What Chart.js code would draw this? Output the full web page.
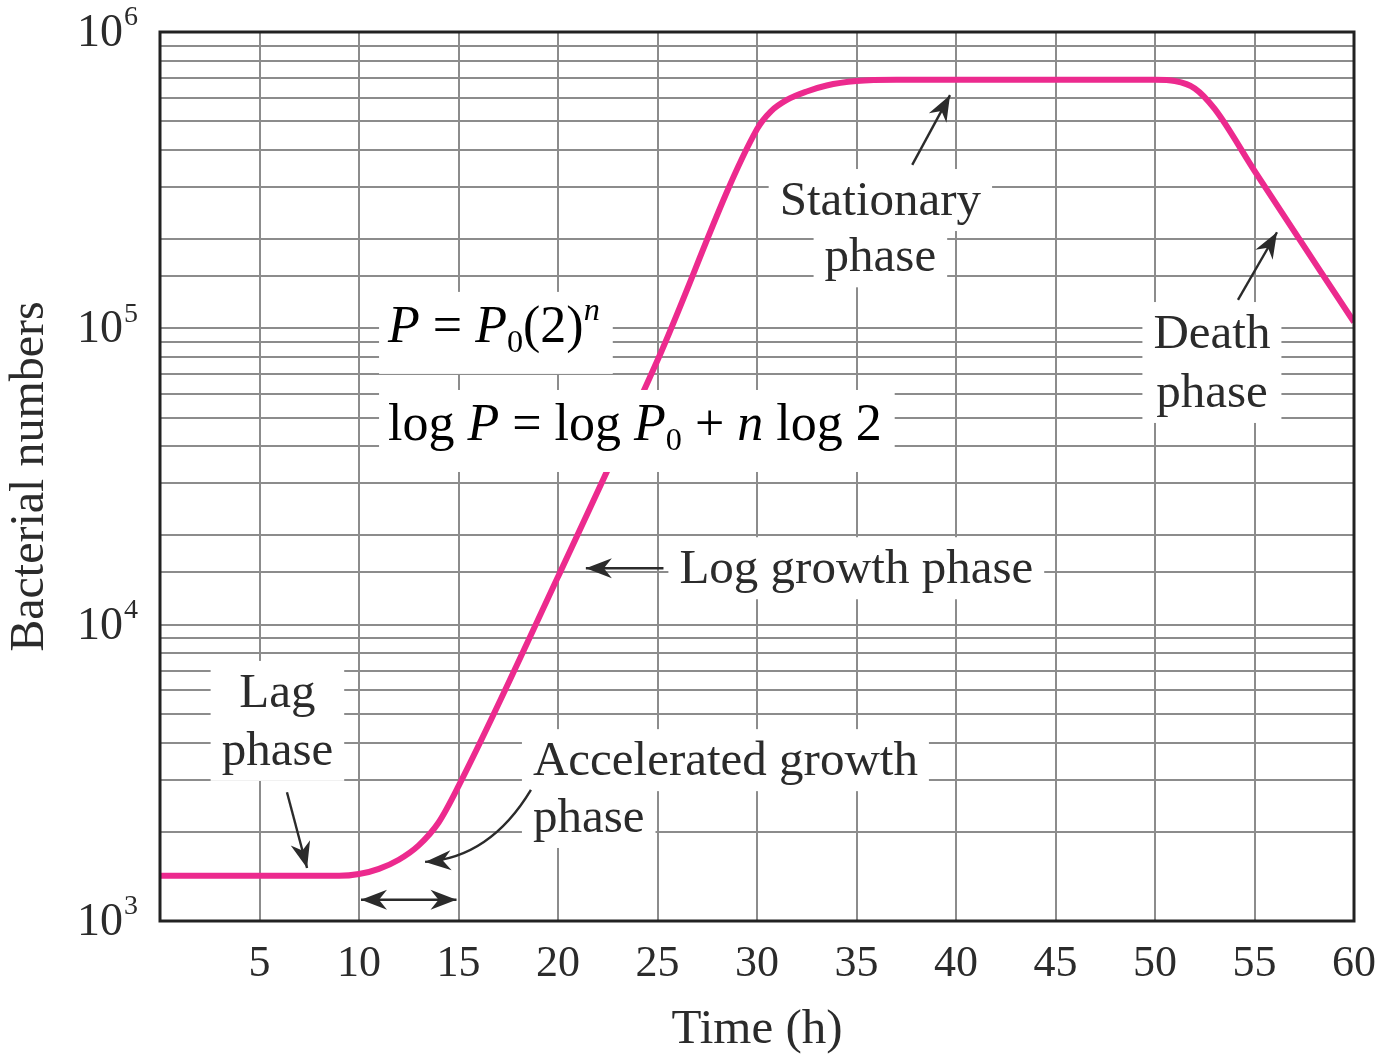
<!DOCTYPE html>
<html>
<head>
<meta charset="utf-8">
<script src="https://cdn.jsdelivr.net/npm/chart.js@4.4.1/dist/chart.umd.min.js"></script>
<style>
  html, body { margin: 0; padding: 0; background: #fff; }
  #growthChart { display: block; }
</style>
</head>
<body>
<canvas id="growthChart" width="1380" height="1055"></canvas>
<script>
// Bacterial growth curve (hours vs. cell count)
const hours = [0, 5, 9, 10, 11, 12, 13, 14, 15, 20, 25, 30, 30.7, 31.5, 32.5, 33.5, 35, 37, 40, 45, 50, 51, 52, 53, 55, 60];
const bacteria = [1420, 1420, 1420, 1440, 1500, 1610, 1800, 2150, 2850, 14500, 78000, 470000, 540000, 590000, 630000, 660000, 683000, 690000, 690000, 690000, 690000, 683000, 645000, 550000, 340000, 105000];

const timeRange = [0, 60];
const timeStep = 5;
const decades = [1e3, 1e4, 1e5, 1e6];
const decadeExponents = ['3', '4', '5', '6'];

const SERIF = '"Liberation Serif", "DejaVu Serif", serif';
const INK = '#2b2b2b';
const GRID = '#8c8c8c';
const CURVE = '#ec2a8e';

// phase labels, placed in data coordinates (hours, count)
const phaseLabels = [
  { lines: ['Stationary', 'phase'], x: 36.2, y: [271000, 175000], align: 'center', block: false },
  { lines: ['Log growth phase'], x: 26.1, y: [15500], align: 'left', block: false },
  { lines: ['Lag', 'phase'], x: 5.9, y: [5930, 3780], align: 'center', block: true },
  { lines: ['Accelerated growth', 'phase'], x: 18.74, y: [3490, 2244], align: 'left', block: false },
  { lines: ['Death', 'phase'], x: 52.86, y: [96400, 61000], align: 'center', block: true }
];

const arrows = [
  { from: [37.8, 356000], to: [39.7, 612000] },
  { from: [25.3, 15500], to: [21.4, 15500] },
  { from: [6.38, 2720], to: [7.39, 1510] },
  { from: [18.64, 2770], via: [16.58, 1632], to: [13.32, 1583] },
  { from: [10.1, 1180], to: [14.9, 1180], both: true },
  { from: [54.17, 124700], to: [56.13, 211000] }
];

// formulas: segments with italic / sub / sup flags
const formulas = [
  { x: 11.46, y: 90000, segs: [
    { t: 'P', i: true }, { t: ' = ' }, { t: 'P', i: true }, { t: '0', sub: true },
    { t: '(2)' }, { t: 'n', i: true, sup: true }
  ] },
  { x: 11.46, y: 42000, segs: [
    { t: 'log ' }, { t: 'P', i: true }, { t: ' = ' }, { t: 'log ' }, { t: 'P', i: true },
    { t: '0', sub: true }, { t: ' + ' }, { t: 'n', i: true }, { t: ' log 2' }
  ] }
];

function arrowHead(ctx, x, y, ang) {
  const len = 26, half = 10, notch = 8;
  ctx.save();
  ctx.translate(x, y);
  ctx.rotate(ang);
  ctx.beginPath();
  ctx.moveTo(0, 0);
  ctx.lineTo(-len, -half);
  ctx.lineTo(-len + notch, 0);
  ctx.lineTo(-len, half);
  ctx.closePath();
  ctx.fill();
  ctx.restore();
}

function drawRich(ctx, segs, x, base, size, paint) {
  let cx = x;
  segs.forEach(s => {
    const sz = (s.sub || s.sup) ? size * 0.62 : size;
    ctx.font = (s.i ? 'italic ' : '') + sz + 'px ' + SERIF;
    const gap = (s.gap || 0) * size;
    cx += gap;
    let by = base;
    if (s.sub) by += size * 0.2;
    if (s.sup) by -= size * 0.42;
    if (paint) ctx.fillText(s.t, cx, by);
    cx += ctx.measureText(s.t).width + gap;
  });
  return cx - x;
}

const annotate = {
  id: 'annotate',
  afterDatasetsDraw(chart) {
    const { ctx, scales: { x, y } } = chart;
    const px = v => x.getPixelForValue(v);
    const py = v => y.getPixelForValue(v);
    ctx.save();

    // formulas on white boxes (these cover the curve)
    const fSize = 52;
    ctx.textBaseline = 'alphabetic';
    ctx.textAlign = 'left';
    formulas.forEach(f => {
      const bx = px(f.x), by = py(f.y);
      const w = drawRich(ctx, f.segs, bx, by, fSize, false);
      ctx.fillStyle = '#fff';
      ctx.fillRect(bx - 9, by - 50, w + 22, 82);
      ctx.fillStyle = '#000';
      drawRich(ctx, f.segs, bx, by, fSize, true);
    });

    // phase labels
    ctx.font = '49px ' + SERIF;
    ctx.textBaseline = 'middle';
    phaseLabels.forEach(g => {
      const widths = g.lines.map(t => ctx.measureText(t).width);
      const maxW = Math.max(...widths);
      g.lines.forEach((t, k) => {
        const w = g.block ? maxW : widths[k];
        const cx = px(g.x), cy = py(g.y[k]);
        const left = g.align === 'center' ? cx - w / 2 : cx;
        ctx.fillStyle = '#fff';
        ctx.fillRect(left - 11, cy - 31, w + 22, 62);
        ctx.fillStyle = INK;
        ctx.textAlign = g.align;
        ctx.fillText(t, cx, cy + 2);
      });
    });

    // arrows
    ctx.strokeStyle = INK;
    ctx.fillStyle = INK;
    ctx.lineWidth = 2.4;
    arrows.forEach(a => {
      const x1 = px(a.from[0]), y1 = py(a.from[1]);
      const x2 = px(a.to[0]), y2 = py(a.to[1]);
      ctx.beginPath();
      ctx.moveTo(x1, y1);
      let ax = x1, ay = y1;
      if (a.via) {
        const vx = px(a.via[0]), vy = py(a.via[1]);
        ctx.quadraticCurveTo(vx, vy, x2, y2);
        ax = vx; ay = vy;
      } else {
        ctx.lineTo(x2, y2);
      }
      ctx.stroke();
      arrowHead(ctx, x2, y2, Math.atan2(y2 - ay, x2 - ax));
      if (a.both) arrowHead(ctx, x1, y1, Math.atan2(y1 - y2, x1 - x2));
    });
    ctx.restore();
  },
  afterDraw(chart) {
    const { ctx, chartArea: ca, scales: { y } } = chart;
    ctx.save();
    // plot frame
    ctx.strokeStyle = '#222';
    ctx.lineWidth = 3;
    ctx.strokeRect(ca.left, ca.top, ca.right - ca.left, ca.bottom - ca.top);

    // decade labels 10^n
    ctx.fillStyle = INK;
    ctx.textBaseline = 'middle';
    decades.forEach((v, k) => {
      const yy = y.getPixelForValue(v);
      ctx.font = '46px ' + SERIF;
      ctx.textAlign = 'right';
      ctx.fillText('10', 123, yy + 2);
      ctx.font = '28px ' + SERIF;
      ctx.textAlign = 'left';
      ctx.fillText(decadeExponents[k], 124, yy - 14);
    });
    ctx.restore();
  }
};

new Chart(document.getElementById('growthChart'), {
  type: 'line',
  data: {
    datasets: [{
      data: hours.map((h, i) => ({ x: h, y: bacteria[i] })),
      borderColor: CURVE,
      borderWidth: 6,
      pointRadius: 0,
      cubicInterpolationMode: 'monotone',
      fill: false
    }]
  },
  options: {
    responsive: false,
    animation: false,
    layout: { padding: { top: 32, right: 26, left: 0, bottom: 0 } },
    plugins: { legend: { display: false }, tooltip: { enabled: false } },
    scales: {
      x: {
        type: 'linear',
        min: timeRange[0],
        max: timeRange[1],
        afterFit: s => { s.height = 134; s.paddingLeft = 0; s.paddingRight = 0; },
        border: { display: false },
        grid: { color: GRID, lineWidth: 2, drawTicks: false },
        ticks: {
          stepSize: timeStep,
          padding: 17,
          color: INK,
          font: { family: SERIF, size: 44 },
          callback: v => (v === 0 ? '' : v)
        },
        title: {
          display: true,
          text: 'Time (h)',
          color: INK,
          font: { family: SERIF, size: 49, lineHeight: 1 },
          padding: { top: 0, bottom: 0 }
        }
      },
      y: {
        type: 'logarithmic',
        min: decades[0],
        max: decades[decades.length - 1],
        afterFit: s => { s.width = 160; s.paddingTop = 0; s.paddingBottom = 0; },
        border: { display: false },
        grid: { color: GRID, lineWidth: 2, drawTicks: false },
        ticks: { display: false },
        title: {
          display: true,
          text: 'Bacterial numbers',
          color: INK,
          font: { family: SERIF, size: 48, lineHeight: 1 },
          padding: { top: 6, bottom: 0 }
        }
      }
    }
  },
  plugins: [annotate]
});
</script>
</body>
</html>
